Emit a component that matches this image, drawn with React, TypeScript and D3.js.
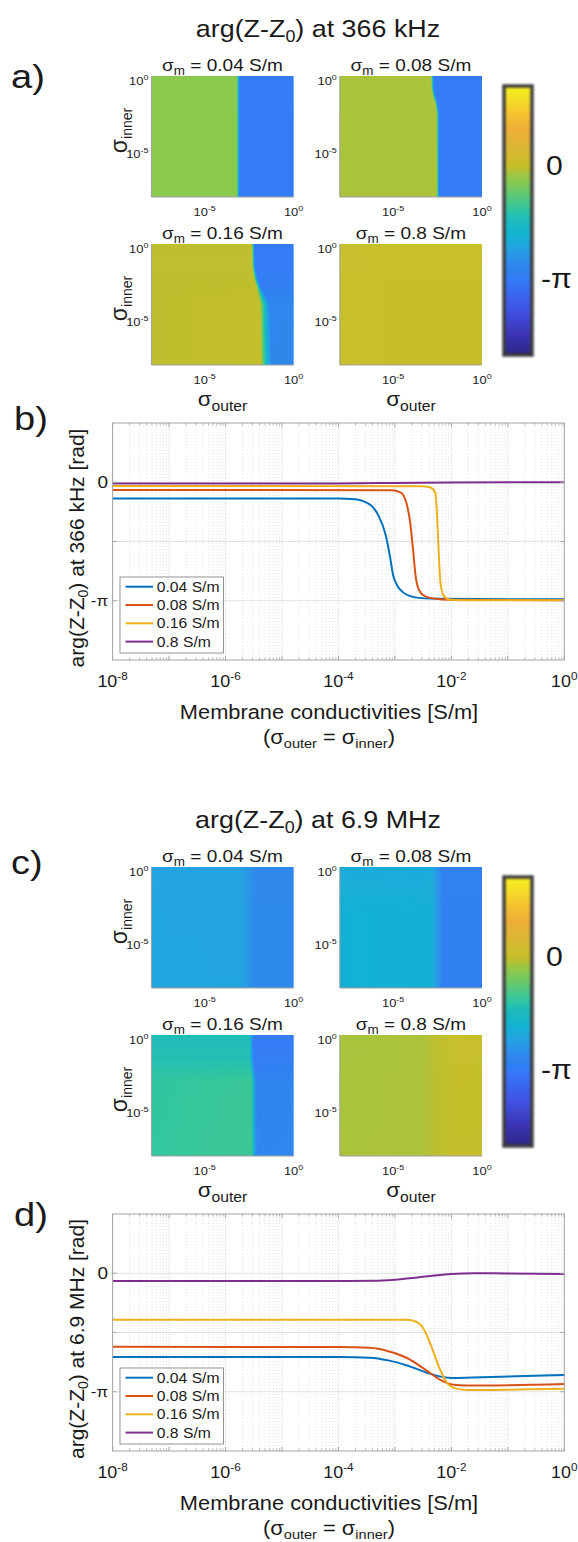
import React from 'react'
import * as d3 from 'd3'

// membrane conductivities of the four simulations
const membranes = ['0.04', '0.08', '0.16', '0.8']
const lineColors = ['#0072BD', '#D95319', '#EDB120', '#7E2F8E']
const freqs = ['366 kHz', '6.9 MHz']

// b) arg(Z-Z0) at 366 kHz, x = log10(sigma) [S/m], y = phase [rad]
const x366_004 = [-8, -4, -3.715, -3.453, -3.29, -3.16, -3.09, -3.03, -2.96, -2.86, -2.73, -2.54, -2.14, -1, 0]
const y366_004 = [-0.43, -0.43, -0.449, -0.58, -0.889, -1.417, -1.945, -2.473, -2.737, -2.913, -3.019, -3.072, -3.089, -3.1, -3.1]
const x366_008 = [-8, -3.06, -2.896, -2.798, -2.73, -2.68, -2.634, -2.57, -2.47, -2.27, -2.01, 0]
const y366_008 = [-0.205, -0.211, -0.273, -0.537, -1.065, -1.769, -2.473, -2.869, -3.019, -3.089, -3.115, -3.13]
const x366_016 = [-8, -2.535, -2.37, -2.286, -2.253, -2.227, -2.194, -2.14, -2.04, -1.81, 0]
const y366_016 = [-0.097, -0.106, -0.141, -0.273, -0.889, -1.769, -2.649, -3.0, -3.107, -3.128, -3.13]
const x366_08 = [-8, -4, -3, -2, 0]
const y366_08 = [-0.03, -0.03, -0.02, -0.005, 0]

// d) arg(Z-Z0) at 6.9 MHz
const x69_004 = [-8, -4, -3.448, -3.117, -2.786, -2.456, -2.19, -1.99, -1.46, 0]
const y69_004 = [-2.22, -2.22, -2.238, -2.31, -2.445, -2.624, -2.741, -2.777, -2.759, -2.697]
const x69_008 = [-8, -4, -3.448, -3.117, -2.786, -2.456, -2.19, -1.99, -1.727, -1.46, 0]
const y69_008 = [-1.951, -1.955, -1.978, -2.067, -2.247, -2.562, -2.831, -2.948, -2.975, -2.975, -2.939]
const x69_016 = [-8, -3, -2.786, -2.62, -2.488, -2.356, -2.223, -2.09, -1.958, -1.727, -1.46, 0]
const y69_016 = [-1.232, -1.232, -1.232, -1.286, -1.483, -1.933, -2.472, -2.877, -3.038, -3.092, -3.092, -3.065]
const x69_08 = [-8, -4, -3.4, -3, -2.6, -2.3, -2, -1.6, -1, 0]
const y69_08 = [-0.207, -0.207, -0.2, -0.17, -0.11, -0.06, -0.02, 0, -0.005, -0.02]

// a) / c) maps: rows of [log10 sigma_inner, [[log10 sigma_outer, phase], ...]]
const map366_004 = [
  [0, [[-8, -0.42], [-3.2, -0.42], [-3.12, -1.7], [-3.03, -3.1], [0, -3.1]]],
  [-8, [[-8, -0.42], [-3.2, -0.42], [-3.12, -1.7], [-3.03, -3.1], [0, -3.1]]],
]
const map366_008 = [
  [0, [[-8, -0.21], [-2.86, -0.21], [-2.78, -1.7], [-2.7, -3.1], [0, -3.1]]],
  [-0.8, [[-8, -0.21], [-2.85, -0.21], [-2.77, -1.7], [-2.69, -3.1], [0, -3.1]]],
  [-1.3, [[-8, -0.21], [-2.77, -0.21], [-2.69, -1.7], [-2.61, -3.1], [0, -3.1]]],
  [-1.8, [[-8, -0.21], [-2.64, -0.21], [-2.56, -1.7], [-2.48, -3.1], [0, -3.1]]],
  [-2.4, [[-8, -0.21], [-2.56, -0.21], [-2.48, -1.7], [-2.4, -3.1], [0, -3.1]]],
  [-8, [[-8, -0.21], [-2.55, -0.21], [-2.47, -1.7], [-2.39, -3.1], [0, -3.1]]],
]
const map366_016 = [
  [0, [[-8, -0.1], [-2.35, -0.1], [-2.27, -1.6], [-2.2, -3.1], [0, -3.1]]],
  [-1.6, [[-8, -0.1], [-2.32, -0.1], [-2.24, -1.6], [-2.16, -3.1], [0, -3.1]]],
  [-2.3, [[-8, -0.1], [-2.22, -0.09], [-2.12, -1.6], [-2.02, -3.05], [0, -3.05]]],
  [-3, [[-8, -0.1], [-2.06, -0.08], [-1.92, -1.6], [-1.78, -3.0], [0, -2.95]]],
  [-4, [[-8, -0.1], [-1.9, -0.04], [-1.62, -1.6], [-1.35, -2.75], [0, -2.72]]],
  [-8, [[-8, -0.1], [-1.85, -0.04], [-1.55, -1.6], [-1.25, -2.72], [0, -2.72]]],
]
const map366_08 = [
  [0, [[-8, -0.02], [0, -0.01]]],
  [-8, [[-8, -0.02], [0, -0.01]]],
]
const map69_004 = [
  [0, [[-8, -2.25], [-3.0, -2.27], [-2.1, -2.72], [0, -2.72]]],
  [-8, [[-8, -2.22], [-3.0, -2.24], [-2.1, -2.7], [0, -2.7]]],
]
const map69_008 = [
  [0, [[-8, -2.08], [-2.85, -2.1], [-2.15, -2.94], [0, -2.94]]],
  [-3, [[-8, -1.95], [-2.85, -1.98], [-2.15, -2.94], [0, -2.94]]],
  [-8, [[-8, -1.95], [-2.85, -1.98], [-2.15, -2.94], [0, -2.94]]],
]
const map69_016 = [
  [0, [[-8, -1.45], [-2.5, -1.45], [-2.36, -2.3], [-2.25, -3.1], [0, -3.1]]],
  [-1.5, [[-8, -1.42], [-2.5, -1.42], [-2.35, -2.3], [-2.24, -3.08], [0, -3.08]]],
  [-3, [[-8, -1.22], [-2.35, -1.15], [-2.2, -2.3], [-2.05, -2.85], [0, -2.8]]],
  [-8, [[-8, -1.2], [-2.35, -1.12], [-2.18, -2.3], [-2.02, -2.75], [0, -2.72]]],
]
const map69_08 = [
  [0, [[-8, -0.22], [-3.4, -0.2], [-1.6, -0.02], [0, -0.03]]],
  [-8, [[-8, -0.21], [-3.4, -0.19], [-1.6, -0.05], [0, -0.05]]],
]

// colour bar: phase range and colormap stops (0 = bottom, 1 = top)
const cbarDomain = [-5.2, 2.15]
const cmapAt = [0, 0.08, 0.16, 0.23, 0.286, 0.307, 0.34, 0.405, 0.442, 0.51, 0.544, 0.6, 0.65, 0.679, 0.694, 0.707, 0.78, 0.84, 0.9, 0.96, 1]
const cmapColors = ['#2E2585', '#3B35B5', '#4050E0', '#3A68F2', '#337CF6', '#3080F0', '#2E89EC', '#22A5E0', '#12B1D3', '#1FBDB8', '#33C69E', '#62C870', '#8BC94E', '#A9C43B', '#C0BE2E', '#C8BF2A', '#DDB535', '#F0AE38', '#F5C530', '#F5E225', '#F5EE1E']

const FONT = 'Liberation Sans, Arial, Helvetica, sans-serif'
const SX = 1.12
const INK = '#1a1a1a'
const HM_W = 142.2
const HM_H = 121
const HM_X = [151.4, 339.8]
const HM_Y = [76, 244]
const BOX = {x0: 112.6, x1: 564.3, y0: 423, y1: 660}
const SHIFT = 791

const toFrac = d3.scaleLinear().domain(cbarDomain).range([0, 1])
const cmap = d3.scaleLinear<string>().domain(cmapAt).range(cmapColors).interpolate(d3.interpolateRgb).clamp(true)
const colorOf = (v) => cmap(toFrac(v))

const Txt = ({x, y, size, anchor = 'start', children}) => (
  <text transform={`translate(${x},${y}) scale(${SX},1)`} fontSize={size} textAnchor={anchor} fill={INK}>
    {children}
  </text>
)

const rowAt = (rows, inner) => {
  if (inner >= rows[0][0]) return rows[0][1]
  const last = rows[rows.length - 1]
  if (inner <= last[0]) return last[1]
  for (let i = 0; i < rows.length - 1; i++) {
    const a = rows[i], b = rows[i + 1]
    if (inner <= a[0] && inner >= b[0]) {
      const t = (a[0] - inner) / (a[0] - b[0])
      return a[1].map((s, j) => [s[0] + (b[1][j][0] - s[0]) * t, s[1] + (b[1][j][1] - s[1]) * t])
    }
  }
  return last[1]
}

const Heatmap = ({id, x0, y0, rows, sigma, leftCol, bottomRow}) => {
  const xs = d3.scaleLog().domain([1e-8, 1]).range([x0, x0 + HM_W])
  const ys = d3.scaleLog().domain([1e-8, 1]).range([y0 + HM_H, y0])
  const n = 60
  const bh = HM_H / n
  const bands = d3.range(n).map(i => {
    const inner = Math.log10(ys.invert(y0 + (i + 0.5) * bh))
    return {y: y0 + i * bh, stops: rowAt(rows, inner)}
  })
  const gradStops = (stops) => {
    const out = []
    for (let j = 0; j < stops.length - 1; j++) {
      const [o0, v0] = stops[j]
      const [o1, v1] = stops[j + 1]
      const k = o1 - o0 > 1 ? 2 : 8
      for (let s = 0; s < k; s++) {
        const t = s / k
        const o = o0 + (o1 - o0) * t
        out.push({off: (xs(Math.pow(10, o)) - x0) / HM_W, c: colorOf(v0 + (v1 - v0) * t)})
      }
    }
    const lastS = stops[stops.length - 1]
    out.push({off: 1, c: colorOf(lastS[1])})
    return out.map((s, i) => <stop key={i} offset={s.off} stopColor={s.c} />)
  }
  return (
    <g>
      <defs>
        {bands.map((b, i) => (
          <linearGradient key={i} id={`${id}-${i}`} x1="0" x2="1" y1="0" y2="0">
            {gradStops(b.stops)}
          </linearGradient>
        ))}
      </defs>
      {bands.map((b, i) => (
        <rect key={i} x={x0} y={b.y} width={HM_W} height={bh + (i < n - 1 ? 0.7 : 0)} fill={`url(#${id}-${i})`} />
      ))}
      <path d={`M${x0},${y0}V${y0 + HM_H}H${x0 + HM_W}`} fill="none" stroke="#a0a0a0" strokeWidth={1} />
      <Txt x={x0 + HM_W / 2} y={y0 - 5} size={17} anchor="middle">
        σ<tspan fontSize={12} dy={4}>m</tspan><tspan dy={-4}> = {sigma} S/m</tspan>
      </Txt>
      {[0, -5].map(e => (
        <Txt key={e} x={x0 - 3} y={ys(Math.pow(10, e)) + (e === 0 ? 9 : 6)} size={11.5} anchor="end">
          10<tspan fontSize={8} dy={-5}>{e}</tspan>
        </Txt>
      ))}
      {[-5, 0].map(e => (
        <Txt key={e} x={xs(Math.pow(10, e))} y={y0 + HM_H + 19} size={11.5} anchor="middle">
          10<tspan fontSize={8} dy={-5}>{e}</tspan>
        </Txt>
      ))}
      {leftCol && (
        <text transform={`translate(${x0 - 24},${y0 + HM_H / 2 - 6}) rotate(-90)`} fontSize={23} textAnchor="middle" fill={INK}>
          σ<tspan fontSize={14} dy={5}>inner</tspan>
        </text>
      )}
      {bottomRow && (
        <Txt x={x0 + HM_W / 2} y={y0 + HM_H + 41} size={20} anchor="middle">
          σ<tspan fontSize={14} dy={5}>outer</tspan>
        </Txt>
      )}
    </g>
  )
}

const Colorbar = ({dy}) => {
  const y = d3.scaleLinear().domain(cbarDomain).range([355 + dy, 86 + dy])
  const id = `cbar${dy}`
  return (
    <g>
      <defs>
        <linearGradient id={id} x1="0" x2="0" y1="1" y2="0">
          {cmapAt.map((o, i) => <stop key={i} offset={o} stopColor={cmapColors[i]} />)}
        </linearGradient>
        <filter id={`${id}b`} x="-0.5" y="-0.1" width="2" height="1.2">
          <feGaussianBlur stdDeviation={0.8} />
        </filter>
      </defs>
      <rect x={504} y={86 + dy} width={28} height={269} fill={`url(#${id})`} />
      <rect x={504} y={86 + dy} width={28} height={269} fill="none" stroke="#3c3c3c" strokeWidth={3.5} filter={`url(#${id}b)`} />
      <Txt x={546} y={y(0) + 10} size={27}>0</Txt>
      <Txt x={541} y={y(-Math.PI) + 8} size={27}>-π</Txt>
    </g>
  )
}

const LinePlot = ({dy, curves, freq, letterY, letter}) => {
  const x = d3.scaleLog().domain([1e-8, 1]).range([BOX.x0, BOX.x1])
  const y = d3.scaleLinear().domain([-1.5 * Math.PI, 0.5 * Math.PI]).range([BOX.y1 + dy, BOX.y0 + dy])
  const line = d3.line<number[]>().x(d => x(Math.pow(10, d[0]))).y(d => y(d[1])).curve(d3.curveMonotoneX)
  const y0 = BOX.y0 + dy, y1 = BOX.y1 + dy
  const minors = []
  for (let e = -8; e < 0; e++) for (let m = 2; m <= 9; m++) minors.push(m * Math.pow(10, e))
  const decades = d3.range(-8, 1).map(e => Math.pow(10, e))
  const yTicks = [-Math.PI, -Math.PI / 2, 0]
  return (
    <g>
      <Txt x={14} y={letterY} size={34}>{letter}</Txt>
      <rect x={BOX.x0} y={y0} width={BOX.x1 - BOX.x0} height={y1 - y0} fill="#fff" />
      {minors.map((v, i) => (
        <line key={i} x1={x(v)} x2={x(v)} y1={y0} y2={y1} stroke="#d6d6d6" strokeWidth={0.7} strokeDasharray="1 2" />
      ))}
      {decades.map((v, i) => (
        <line key={i} x1={x(v)} x2={x(v)} y1={y0} y2={y1} stroke="#c4c4c4" strokeWidth={0.8} strokeDasharray="1 1.5" />
      ))}
      {yTicks.map((v, i) => (
        <line key={i} x1={BOX.x0} x2={BOX.x1} y1={y(v)} y2={y(v)} stroke="#e2e2e2" strokeWidth={1} />
      ))}
      {curves.map((c, i) => (
        <path key={i} d={line(c.xs.map((v, j) => [v, c.ys[j]]))} fill="none" stroke={lineColors[i]} strokeWidth={2} />
      ))}
      <g>
        <rect x={120} y={577 + dy} width={103.4} height={76} fill="#fff" stroke="#7a7a7a" strokeWidth={0.8} />
        {membranes.map((m, i) => {
          const ly = 586.7 + i * 18.3 + dy
          return (
            <g key={m}>
              <line x1={125.5} x2={153.1} y1={ly} y2={ly} stroke={lineColors[i]} strokeWidth={2} />
              <Txt x={156.8} y={ly + 5} size={14}>{m} S/m</Txt>
            </g>
          )
        })}
      </g>
      <rect x={BOX.x0} y={y0} width={BOX.x1 - BOX.x0} height={y1 - y0} fill="none" stroke="#a6a6a6" strokeWidth={1} />
      {decades.map((v, i) => (
        <g key={i}>
          <line x1={x(v)} x2={x(v)} y1={y1} y2={y1 - 4} stroke="#a6a6a6" />
          <line x1={x(v)} x2={x(v)} y1={y0} y2={y0 + 4} stroke="#a6a6a6" />
        </g>
      ))}
      {minors.map((v, i) => (
        <g key={i}>
          <line x1={x(v)} x2={x(v)} y1={y1} y2={y1 - 2.5} stroke="#a6a6a6" strokeWidth={0.8} />
          <line x1={x(v)} x2={x(v)} y1={y0} y2={y0 + 2.5} stroke="#a6a6a6" strokeWidth={0.8} />
        </g>
      ))}
      {yTicks.map((v, i) => (
        <g key={i}>
          <line x1={BOX.x0} x2={BOX.x0 + 4} y1={y(v)} y2={y(v)} stroke="#a6a6a6" />
          <line x1={BOX.x1} x2={BOX.x1 - 4} y1={y(v)} y2={y(v)} stroke="#a6a6a6" />
        </g>
      ))}
      <Txt x={108} y={y(0) + 6} size={17} anchor="end">0</Txt>
      <Txt x={108} y={y(-Math.PI) + 5} size={15} anchor="end">-π</Txt>
      {[-8, -6, -4, -2, 0].map(e => (
        <Txt key={e} x={x(Math.pow(10, e))} y={687 + dy} size={16} anchor="middle">
          10<tspan fontSize={10.5} dy={-7}>{e}</tspan>
        </Txt>
      ))}
      <Txt x={329} y={719 + dy} size={19.5} anchor="middle">Membrane conductivities [S/m]</Txt>
      <Txt x={329} y={744 + dy} size={19.5} anchor="middle">
        (σ<tspan fontSize={13} dy={4}>outer</tspan><tspan dy={-4}> = σ</tspan><tspan fontSize={13} dy={4}>inner</tspan><tspan dy={-4}>)</tspan>
      </Txt>
      <text transform={`translate(84,${548 + dy}) rotate(-90)`} fontSize={21} textAnchor="middle" fill={INK}>
        arg(Z-Z<tspan fontSize={14} dy={4}>0</tspan><tspan dy={-4}>) at {freq} [rad]</tspan>
      </text>
    </g>
  )
}

const Half = ({dy, freq, maps, curves, letters, letterY, tag}) => (
  <g>
    <Txt x={318} y={37 + dy} size={24} anchor="middle">
      arg(Z-Z<tspan fontSize={16} dy={5}>0</tspan><tspan dy={-5}>) at {freq}</tspan>
    </Txt>
    <Txt x={11} y={letterY[0]} size={34}>{letters[0]}</Txt>
    {maps.map((rows, i) => (
      <Heatmap
        key={i}
        id={`${tag}${i}`}
        x0={HM_X[i % 2]}
        y0={HM_Y[Math.floor(i / 2)] + dy}
        rows={rows}
        sigma={membranes[i]}
        leftCol={i % 2 === 0}
        bottomRow={i >= 2}
      />
    ))}
    <Colorbar dy={dy} />
    <LinePlot dy={dy} curves={curves} freq={freq} letterY={letterY[1]} letter={letters[1]} />
  </g>
)

export default function App() {
  const curves366 = [
    {xs: x366_004, ys: y366_004},
    {xs: x366_008, ys: y366_008},
    {xs: x366_016, ys: y366_016},
    {xs: x366_08, ys: y366_08},
  ]
  const curves69 = [
    {xs: x69_004, ys: y69_004},
    {xs: x69_008, ys: y69_008},
    {xs: x69_016, ys: y69_016},
    {xs: x69_08, ys: y69_08},
  ]
  return (
    <svg width={578} height={1542} style={{position: 'absolute', left: 0, top: 0, background: '#fff'}} fontFamily={FONT}>
      <rect width={578} height={1542} fill="#fff" />
      <Half dy={0} freq={freqs[0]} maps={[map366_004, map366_008, map366_016, map366_08]} curves={curves366}
        letters={['a)', 'b)']} letterY={[88, 430]} tag="ha" />
      <Half dy={SHIFT} freq={freqs[1]} maps={[map69_004, map69_008, map69_016, map69_08]} curves={curves69}
        letters={['c)', 'd)']} letterY={[874, 1226]} tag="hc" />
    </svg>
  )
}
